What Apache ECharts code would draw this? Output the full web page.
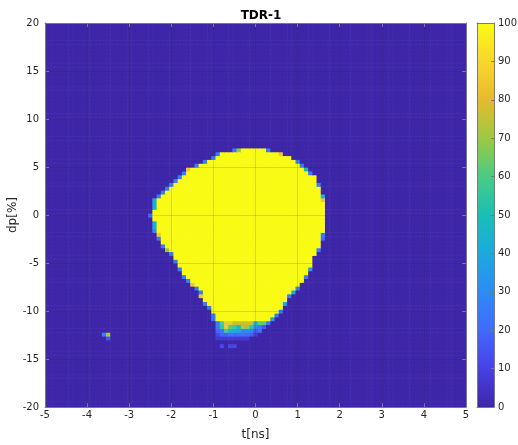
<!DOCTYPE html>
<html><head><meta charset="utf-8">
<script src="https://cdn.jsdelivr.net/npm/echarts@6/dist/echarts.min.js"></script>
<style>html,body{margin:0;padding:0;background:#fff}#c{width:518px;height:445px}</style>
</head><body><div id="c"></div>
<script>
// ---------- texts ----------
const chartTitle = 'TDR-1';
const xName = 't[ns]';
const yName = 'dp[%]';

// ---------- axes / ticks ----------
const tTicks = [-5, -4, -3, -2, -1, 0, 1, 2, 3, 4, 5];
const dpTicks = [-20, -15, -10, -5, 0, 5, 10, 15, 20];
const cbTicks = [0, 10, 20, 30, 40, 50, 60, 70, 80, 90, 100];

// image pixel grid (cell centres)
const tMin = -5, tMax = 5, tStep = 0.1;
const dpMin = -20, dpMax = 20, dpStep = 0.4;

// ---------- values ----------
const bgValue = 0;      // dark blue background
const coreValue = 100;  // yellow core

// rows of the yellow core: dp, first yellow t, last yellow t
const coreDp = [6.8, 6.4, 6.0, 5.6, 5.2, 4.8, 4.4, 4.0, 3.6, 3.2, 2.8, 2.4, 2.0, 1.6, 1.2, 0.8, 0.4, 0.0,
  -0.4, -0.8, -1.2, -1.6, -2.0, -2.4, -2.8, -3.2, -3.6, -4.0, -4.4, -4.8, -5.2, -5.6, -6.0, -6.4, -6.8,
  -7.2, -7.6, -8.0, -8.4, -8.8, -9.2, -9.6, -10.0, -10.4, -10.8];
const coreLeft = [-0.3, -0.8, -0.9, -1.1, -1.3, -1.5, -1.6, -1.7, -1.8, -1.9, -2.0, -2.1, -2.2, -2.3, -2.3, -2.3, -2.4, -2.4,
  -2.4, -2.3, -2.3, -2.3, -2.2, -2.2, -2.2, -2.1, -2.0, -1.9, -1.9, -1.8, -1.8, -1.7, -1.7, -1.6, -1.5,
  -1.4, -1.3, -1.2, -1.2, -1.2, -1.1, -1.0, -1.0, -0.9, -0.9];
const coreRight = [0.2, 0.5, 0.8, 0.9, 1.0, 1.1, 1.2, 1.4, 1.4, 1.4, 1.5, 1.5, 1.5, 1.5, 1.6, 1.6, 1.6, 1.6,
  1.6, 1.6, 1.6, 1.6, 1.5, 1.5, 1.5, 1.5, 1.4, 1.4, 1.3, 1.3, 1.3, 1.2, 1.2, 1.1, 1.1,
  1.0, 0.9, 0.8, 0.7, 0.7, 0.6, 0.6, 0.5, 0.4, 0.3];

// single partial cells around the edge: [t, dp, value]
const edgeCells = [
  [-0.5, 6.8, 25], [-0.4, 6.8, 68], [0.3, 6.8, 25],
  [-0.9, 6.4, 25], [0.6, 6.4, 85],
  [-1.0, 6.0, 25],
  [-1.2, 5.6, 25], [1.0, 5.6, 25],
  [-1.4, 5.2, 25], [1.1, 5.2, 25],
  [-1.6, 4.8, 85], [1.2, 4.8, 45],
  [-1.7, 4.4, 25], [1.3, 4.4, 25],
  [-1.8, 4.0, 25],
  [-1.9, 3.6, 25],
  [-2.0, 3.2, 25], [1.5, 3.2, 25],
  [-2.1, 2.8, 25],
  [-2.2, 2.4, 25],
  [-2.3, 2.0, 25], [1.6, 2.0, 45],
  [-2.4, 1.6, 42], [1.6, 1.6, 85],
  [-2.4, 1.2, 42],
  [-2.4, 0.8, 42],
  [-2.5, 0.0, 22],
  [-2.4, -0.8, 42],
  [-2.4, -1.2, 40],
  [-2.4, -1.6, 30],
  [-2.3, -2.0, 85], [1.6, -2.0, 25],
  [-2.3, -2.4, 25], [1.6, -2.4, 22],
  [-2.2, -3.2, 25],
  [-2.1, -3.6, 68], [1.5, -3.6, 25],
  [-2.0, -4.0, 25],
  [-1.9, -4.8, 25],
  [-1.8, -5.6, 25], [1.3, -5.6, 35],
  [-1.7, -6.4, 25], [1.2, -6.4, 25],
  [-1.6, -6.8, 25],
  [-1.5, -7.2, 85],
  [-1.4, -7.6, 25], [1.0, -7.6, 25],
  [-1.3, -8.0, 25], [0.9, -8.0, 40],
  [-1.3, -8.4, 85], [0.8, -8.4, 25],
  [-1.2, -9.2, 25], [0.7, -9.2, 40],
  [-1.1, -9.6, 25],
  [0.6, -10.0, 25],
  [-1.0, -10.4, 25], [0.5, -10.4, 25],
  [-1.0, -10.8, 25], [0.4, -10.8, 40],
  // isolated speck near t=-3.5
  [-3.6, -12.4, 25], [-3.5, -12.4, 72], [-3.5, -12.8, 15],
  // faint cells under the tail
  [-0.8, -13.6, 12], [-0.6, -13.6, 12], [-0.5, -13.6, 12]
];

// mixed rows under the core: dp, first t, values left to right
const tailDp = [-11.2, -11.6, -12.0, -12.4, -12.8];
const tailStart = [-0.9, -0.9, -0.9, -0.9, -0.9];
const tailValues = [
  [25, 60, 85, 85, 75, 75, 75, 78, 75, 45, 62, 62, 25],
  [25, 55, 85, 62, 58, 45, 72, 70, 55, 30, 25, 15],
  [20, 25, 60, 45, 42, 40, 28, 30, 28, 15, 22],
  [12, 20, 18, 22, 20, 22, 22, 20, 18, 8],
  [7, 7, 7, 7, 7, 7, 7, 7]
];

// parula colour map
const parula = ['#3E26A8', '#4741E5', '#4269FE', '#2D8CF3', '#1CA9DF', '#19BFB6',
  '#4ACB84', '#9DC943', '#E6BB2D', '#FAD62D', '#F9FB15'];

// ---------- build the cell table ----------
const nT = Math.round((tMax - tMin) / tStep) + 1;
const nDp = Math.round((dpMax - dpMin) / dpStep) + 1;
const ti = t => Math.round((t - tMin) / tStep);
const di = d => Math.round((d - dpMin) / dpStep);
const grid = [];
for (let r = 0; r < nDp; r++) { grid.push(new Array(nT).fill(bgValue)); }
coreDp.forEach((d, k) => {
  for (let c = ti(coreLeft[k]); c <= ti(coreRight[k]); c++) grid[di(d)][c] = coreValue;
});
tailDp.forEach((d, k) => {
  const c0 = ti(tailStart[k]);
  tailValues[k].forEach((v, m) => { grid[di(d)][c0 + m] = v; });
});
edgeCells.forEach(([t, d, v]) => { grid[di(d)][ti(t)] = v; });
const cells = [];
for (let r = 0; r < nDp; r++) {
  for (let c = 0; c < nT; c++) {
    cells.push([+(tMin + c * tStep).toFixed(2), +(dpMin + r * dpStep).toFixed(2), grid[r][c]]);
  }
}

// ---------- chart ----------
const font = 'DejaVu Sans';
const txt = '#262626';
const boxColor = '#7a7a7a';
const gridLine = { show: true, lineStyle: { color: 'rgba(38,38,38,0.15)', width: 1 } };

const chart = echarts.init(document.getElementById('c'), null, { renderer: 'canvas' });
chart.setOption({
  animation: false,
  backgroundColor: '#ffffff',
  title: {
    text: chartTitle, left: 256, top: 5, textAlign: 'center',
    textStyle: { fontFamily: font, fontSize: 12, fontWeight: 'bold', color: '#000' }
  },
  grid: [
    { left: 45, top: 23, width: 421, height: 384, outerBoundsMode: 'none', containLabel: false },
    { left: 477, top: 23, width: 17, height: 384, outerBoundsMode: 'none', containLabel: false }
  ],
  xAxis: [
    { type: 'value', gridIndex: 0, min: tMin, max: tMax, interval: 1, position: 'bottom', z: 5,
      name: xName, nameLocation: 'middle', nameGap: 22, nameMoveOverlap: false,
      nameTextStyle: { fontFamily: font, fontSize: 12, color: txt },
      axisLine: { show: true, onZero: false, lineStyle: { color: boxColor, width: 1 } },
      axisTick: { show: true, inside: true, length: 4, lineStyle: { color: boxColor } },
      axisLabel: { fontFamily: font, fontSize: 10, color: txt, margin: 3,
        formatter: v => tTicks.includes(v) ? String(v) : '' },
      splitLine: gridLine },
    { type: 'value', gridIndex: 0, min: tMin, max: tMax, interval: 1, position: 'top', z: 5,
      axisLine: { show: true, onZero: false, lineStyle: { color: boxColor, width: 1 } },
      axisTick: { show: true, inside: true, length: 4, lineStyle: { color: boxColor } },
      axisLabel: { show: false }, splitLine: { show: false } },
    { type: 'value', gridIndex: 1, min: 0, max: 1, position: 'bottom', z: 5,
      axisLine: { show: true, onZero: false, lineStyle: { color: boxColor, width: 1 } },
      axisTick: { show: false }, axisLabel: { show: false }, splitLine: { show: false } },
    { type: 'value', gridIndex: 1, min: 0, max: 1, position: 'top', z: 5,
      axisLine: { show: true, onZero: false, lineStyle: { color: boxColor, width: 1 } },
      axisTick: { show: false }, axisLabel: { show: false }, splitLine: { show: false } }
  ],
  yAxis: [
    { type: 'value', gridIndex: 0, min: dpMin, max: dpMax, interval: 5, position: 'left', z: 5,
      name: yName, nameLocation: 'middle', nameGap: 26, nameMoveOverlap: false,
      nameTextStyle: { fontFamily: font, fontSize: 12, color: txt },
      axisLine: { show: true, onZero: false, lineStyle: { color: boxColor, width: 1 } },
      axisTick: { show: true, inside: true, length: 4, lineStyle: { color: boxColor } },
      axisLabel: { fontFamily: font, fontSize: 10, color: txt, margin: 6,
        formatter: v => dpTicks.includes(v) ? String(v) : '' },
      splitLine: gridLine },
    { type: 'value', gridIndex: 0, min: dpMin, max: dpMax, interval: 5, position: 'right', z: 5,
      axisLine: { show: true, onZero: false, lineStyle: { color: boxColor, width: 1 } },
      axisTick: { show: true, inside: true, length: 4, lineStyle: { color: boxColor } },
      axisLabel: { show: false }, splitLine: { show: false } },
    { type: 'value', gridIndex: 1, min: 0, max: 100, interval: 10, position: 'right', z: 5,
      axisLine: { show: true, onZero: false, lineStyle: { color: boxColor, width: 1 } },
      axisTick: { show: true, inside: true, length: 3, lineStyle: { color: boxColor } },
      axisLabel: { fontFamily: font, fontSize: 10, color: txt, margin: 4,
        formatter: v => cbTicks.includes(v) ? String(v) : '' },
      splitLine: { show: false } },
    { type: 'value', gridIndex: 1, min: 0, max: 100, position: 'left', z: 5,
      axisLine: { show: true, onZero: false, lineStyle: { color: boxColor, width: 1 } },
      axisTick: { show: false }, axisLabel: { show: false }, splitLine: { show: false } }
  ],
  visualMap: {
    type: 'continuous', show: false, min: 0, max: 100, dimension: 2, seriesIndex: 0,
    inRange: { color: parula }
  },
  series: [
    {
      type: 'custom', xAxisIndex: 0, yAxisIndex: 0, clip: true, progressive: 0,
      data: cells,
      renderItem: function (params, api) {
        const t = api.value(0), d = api.value(1);
        const p0 = api.coord([t - tStep / 2, d + dpStep / 2]);
        const p1 = api.coord([t + tStep / 2, d - dpStep / 2]);
        return {
          type: 'rect',
          shape: { x: p0[0], y: p0[1], width: p1[0] - p0[0] + 0.6, height: p1[1] - p0[1] + 0.6 },
          style: { fill: api.visual('color') }
        };
      }
    },
    {
      type: 'custom', xAxisIndex: 2, yAxisIndex: 2, clip: true,
      data: [[0, 0, 100]],
      renderItem: function (params, api) {
        const p0 = api.coord([0, api.value(2)]);
        const p1 = api.coord([1, api.value(1)]);
        const stops = parula.map((c, i) => ({ offset: i / (parula.length - 1), color: c }));
        return {
          type: 'rect',
          shape: { x: p0[0], y: p0[1], width: p1[0] - p0[0], height: p1[1] - p0[1] },
          style: { fill: new echarts.graphic.LinearGradient(0, 1, 0, 0, stops) }
        };
      }
    }
  ]
});
</script>
</body></html>
